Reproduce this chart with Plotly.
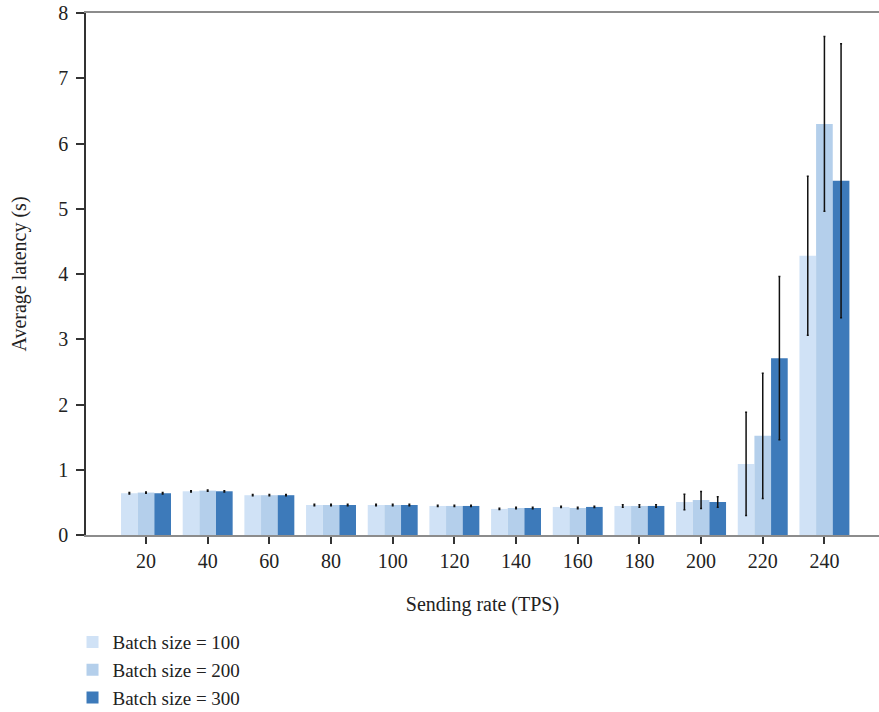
import plotly.graph_objects as go

rates = [20, 40, 60, 80, 100, 120, 140, 160, 180, 200, 220, 240]
names = ["Batch size = 100", "Batch size = 200", "Batch size = 300"]
colors = ["#d0e2f6", "#b4cfeb", "#3d7aba"]

lat_100 = [0.64, 0.67, 0.61, 0.46, 0.46, 0.445, 0.40, 0.43, 0.445, 0.506, 1.09, 4.28]
lat_200 = [0.65, 0.68, 0.61, 0.46, 0.46, 0.445, 0.414, 0.414, 0.445, 0.536, 1.52, 6.30]
lat_300 = [0.64, 0.67, 0.61, 0.46, 0.46, 0.445, 0.414, 0.43, 0.445, 0.506, 2.71, 5.43]

err_100 = [0.01, 0.01, 0.01, 0.01, 0.01, 0.01, 0.01, 0.01, 0.02, 0.12, 0.79, 1.22]
err_200 = [0.01, 0.01, 0.01, 0.01, 0.01, 0.01, 0.01, 0.01, 0.02, 0.13, 0.96, 1.34]
err_300 = [0.01, 0.01, 0.01, 0.01, 0.01, 0.01, 0.01, 0.01, 0.02, 0.08, 1.25, 2.10]

series = [lat_100, lat_200, lat_300]
errors = [err_100, err_200, err_300]

FONT = "Liberation Serif"
FS = 20

fig = go.Figure()
for i in range(3):
    fig.add_trace(go.Bar(
        x=rates, y=series[i], name=names[i],
        marker=dict(color=colors[i], line=dict(width=0)),
        error_y=dict(type="data", array=errors[i], color="#111111",
                     thickness=1.5, width=1),
        legendgroup=f"g{i}",
    ))

fig.update_layout(
    width=879, height=712,
    margin=dict(l=86, r=0, t=13, b=177, autoexpand=False),
    plot_bgcolor="white", paper_bgcolor="white",
    barmode="group", bargap=0.19, bargroupgap=0,
    font=dict(family=FONT, size=FS, color="#222222"),
    showlegend=True,
    legend=dict(orientation="v", x=-0.017, xanchor="left", y=-0.169, yanchor="top",
                traceorder="grouped", tracegroupgap=0,
                font=dict(family=FONT, size=19, color="#222222"),
                bgcolor="rgba(0,0,0,0)"),
    xaxis=dict(
        range=[0.54, 257.7], tickmode="array", tickvals=rates,
        ticktext=[str(r) for r in rates], automargin=False,
        showline=True, linecolor="#8c8c8c", linewidth=2, mirror=True,
        ticks="outside", ticklen=7, tickwidth=1.5, tickcolor="#333333",
        showgrid=False, zeroline=False,
        title=dict(text="Sending rate (TPS)", standoff=26,
                   font=dict(family=FONT, size=FS)),
    ),
    yaxis=dict(
        range=[0, 8], tickmode="array", tickvals=list(range(9)), automargin=False,
        showline=True, linecolor="#333333", linewidth=1.5,
        ticks="outside", ticklen=8, tickwidth=1.5, tickcolor="#333333",
        ticklabelstandoff=4,
        showgrid=False, zeroline=False,
        title=dict(text="Average latency (s)", standoff=26,
                   font=dict(family=FONT, size=FS)),
    ),
)

fig.write_html("out.html", config={"displayModeBar": False},
               post_script="document.body.style.margin='0';document.body.style.overflow='hidden';")
